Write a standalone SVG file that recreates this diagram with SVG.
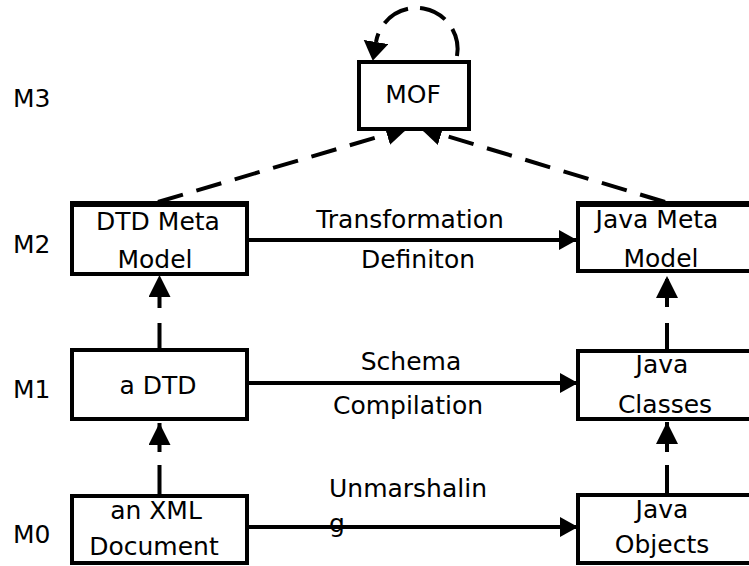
<svg xmlns="http://www.w3.org/2000/svg" width="749" height="566" viewBox="0 0 749 566">
  <style>
    text { font-family: "DejaVu Sans", Verdana, sans-serif; font-size: 25px; fill: #000; }
    .c { text-anchor: middle; }
    .box { fill: #fff; stroke: #000; stroke-width: 4; }
    .topedge { stroke: #000; stroke-width: 6; }
    .solid { fill: none; stroke: #000; stroke-width: 4; }
    .dash { fill: none; stroke: #000; stroke-width: 4; }
  </style>
  <defs>
    <marker id="head" markerUnits="userSpaceOnUse" markerWidth="20" markerHeight="22" refX="18" refY="10" orient="auto">
      <path d="M0,0 L18,10 L0,20 Z" fill="#000"/>
    </marker>
    <marker id="headBig" markerUnits="userSpaceOnUse" markerWidth="24" markerHeight="24" refX="22" refY="11" orient="auto">
      <path d="M0,0 L22,11 L0,22 Z" fill="#000"/>
    </marker>
    <!-- head that starts at the path end and points past it -->
    <marker id="headLoop" markerUnits="userSpaceOnUse" markerWidth="22" markerHeight="26" refX="0" refY="12.5" orient="auto">
      <path d="M0,0 L19,12.5 L0,25 Z" fill="#000"/>
    </marker>
  </defs>

  <!-- level labels -->
  <g id="levels">
    <text x="13" y="107">M3</text>
    <text x="13" y="253">M2</text>
    <text x="13" y="398">M1</text>
    <text x="13" y="543">M0</text>
  </g>

  <!-- connectors -->
  <g id="connectors">
    <!-- MOF self reference -->
    <path class="dash" d="M457,56 A41,41 0 0 0 376,42" stroke-dasharray="28 12" marker-end="url(#headLoop)"/>
    <!-- instance-of links to MOF -->
    <line class="dash" x1="158" y1="202" x2="408" y2="128" stroke-dasharray="26 14" marker-end="url(#headBig)"/>
    <line class="dash" x1="665" y1="202" x2="420" y2="128" stroke-dasharray="26 14" marker-end="url(#headBig)"/>
    <!-- vertical instance-of links -->
    <line class="dash" x1="159.5" y1="350" x2="159.5" y2="275" stroke-dasharray="27 15" marker-end="url(#headBig)"/>
    <line class="dash" x1="159.5" y1="496" x2="159.5" y2="423" stroke-dasharray="31 13" marker-end="url(#headBig)"/>
    <line class="dash" x1="667" y1="351" x2="667" y2="276" stroke-dasharray="28 16" marker-end="url(#headBig)"/>
    <line class="dash" x1="667" y1="495" x2="667" y2="422" stroke-dasharray="30 13" marker-end="url(#headBig)"/>
    <!-- horizontal transformations -->
    <line class="solid" x1="247" y1="240" x2="577" y2="240" marker-end="url(#head)"/>
    <line class="solid" x1="247" y1="383" x2="578" y2="383" marker-end="url(#head)"/>
    <line class="solid" x1="247" y1="527" x2="578" y2="527" marker-end="url(#head)"/>
  </g>

  <!-- connector labels -->
  <g id="labels">
    <text class="c" x="410" y="228">Transformation</text>
    <text class="c" x="418" y="268">Definiton</text>
    <text class="c" x="411" y="370">Schema</text>
    <text class="c" x="408" y="414">Compilation</text>
    <text x="329" y="497">Unmarshalin</text>
    <text x="329" y="532">g</text>
  </g>

  <g id="mof">
    <rect class="box" x="359" y="62" width="110" height="67"/>
    <text class="c" x="413" y="103">MOF</text>
  </g>

  <g id="dtd-meta-model">
    <rect class="box" x="72" y="204" width="175" height="70"/>
    <line class="topedge" x1="70" y1="204" x2="249" y2="204"/>
    <text class="c" x="158" y="230">DTD Meta</text>
    <text class="c" x="155" y="268">Model</text>
  </g>

  <g id="java-meta-model">
    <rect class="box" x="578" y="204" width="180" height="67"/>
    <line class="topedge" x1="576" y1="204" x2="760" y2="204"/>
    <text class="c" x="657" y="228">Java Meta</text>
    <text class="c" x="661" y="267">Model</text>
  </g>

  <g id="a-dtd">
    <rect class="box" x="72" y="350" width="175" height="69"/>
    <text class="c" x="158" y="394">a DTD</text>
  </g>

  <g id="java-classes">
    <rect class="box" x="578" y="351" width="180" height="68"/>
    <text class="c" x="662" y="373">Java</text>
    <text class="c" x="665" y="413">Classes</text>
  </g>

  <g id="xml-document">
    <rect class="box" x="72" y="496" width="175" height="67"/>
    <text class="c" x="156" y="519">an XML</text>
    <text class="c" x="154" y="555">Document</text>
  </g>

  <g id="java-objects">
    <rect class="box" x="578" y="495" width="180" height="68"/>
    <text class="c" x="662" y="518">Java</text>
    <text class="c" x="662" y="553">Objects</text>
  </g>
</svg>
